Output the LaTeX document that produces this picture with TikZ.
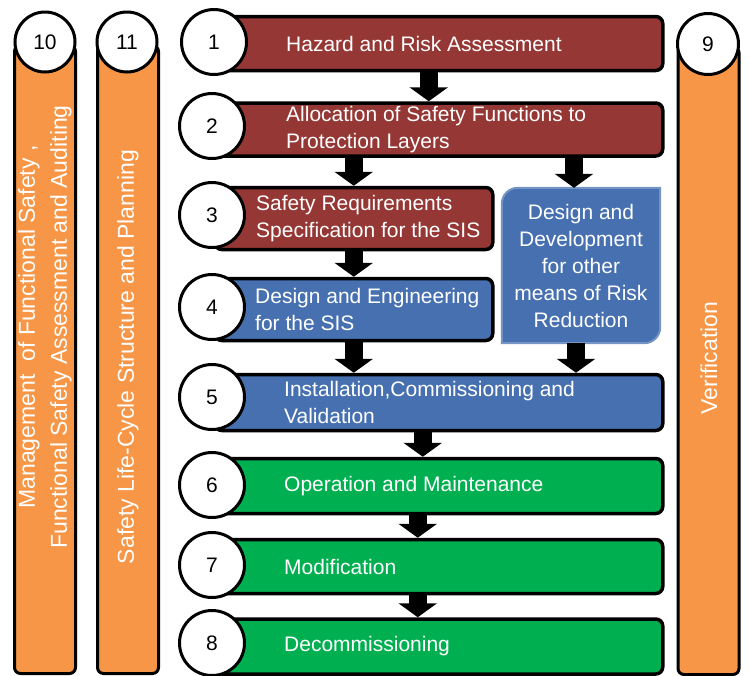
\documentclass[tikz,border=0pt]{standalone}
\usepackage{fontspec}
\setmainfont{Liberation Sans}
\usepackage{tikz}
\usetikzlibrary{arrows.meta}
\usetikzlibrary{backgrounds}

\definecolor{riskred}{RGB}{149,55,53}
\definecolor{sisblue}{RGB}{70,112,176}
\definecolor{opgreen}{RGB}{0,176,80}
\definecolor{mgmtorange}{RGB}{247,150,70}

\tikzstyle{stage}=[rectangle,
rounded corners=7pt,
draw=black,
line width=3.5pt,
anchor=west,
minimum width=448pt]
\tikzstyle{number}=[circle,
draw=black,
line width=3pt,
fill=white,
inner sep=0pt,
minimum size=65pt]
\tikzstyle{column}=[rectangle,
rounded corners=6pt,
draw=black,
line width=3pt,
fill=mgmtorange,
anchor=north,
minimum width=61pt,
minimum height=628pt]
\tikzstyle{stagetext}=[anchor=west,
align=left,
text=white,
inner sep=0pt]
\tikzstyle{coltext}=[rotate=90,
align=center,
text=white,
inner sep=0pt,
font=\fontsize{23}{32}\selectfont]
\tikzstyle{flow}=[line width=18pt,
-{Triangle[width=38pt,length=14pt]}]

\begin{document}
\begin{tikzpicture}[x=1pt,y=1pt,font=\fontsize{21}{27}\selectfont]
	\useasboundingbox (0,0) rectangle (749,-675);
	
	% Orange side bars with their numbers on top
	\node[column] (col_10) at (45,-44) {};
	\node[column] (col_11) at (128,-44) {};
	\node[column] (col_9)  at (708.5,-45) {};
	\node[number, minimum size=60pt] (num_10) at (45,-42)  {10};
	\node[number, minimum size=60pt] (num_11) at (127,-42) {11};
	\node[number, minimum size=61pt] (num_9)  at (708,-44) {9};
	
	\node[coltext] (txt_10) at (45,-327)
	{Management~~of Functional Safety ,\\Functional Safety Assessment and Auditing};
	\node[coltext] (txt_11) at (128,-357) {Safety Life-Cycle Structure and Planning};
	\node[coltext] (txt_9)  at (709,-358) {Verification};
	
	% The life-cycle phases, one box per phase
	\node[stage, fill=riskred,  minimum height=54pt] (box_1) at (213,-43.5) {};
	\node[stage, fill=riskred,  minimum height=53pt] (box_2) at (213,-129.5) {};
	\node[stage, fill=riskred,  minimum height=62pt, minimum width=278pt] (box_3) at (213,-218.5) {};
	\node[stage, fill=sisblue,  minimum height=62pt, minimum width=278pt] (box_4) at (213,-309.5) {};
	\node[stage, fill=sisblue,  minimum height=56pt] (box_5) at (213,-402.5) {};
	\node[stage, fill=opgreen,  minimum height=55pt] (box_6) at (213,-486) {};
	\node[stage, fill=opgreen,  minimum height=54pt] (box_7) at (213,-566.5) {};
	\node[stage, fill=opgreen,  minimum height=55pt] (box_8) at (213,-646.5) {};
	
	\node[stagetext] (lbl_1) at ([xshift=73pt]box_1.west) {Hazard and Risk Assessment};
	\node[stagetext] (lbl_2) at ([xshift=73pt]box_2.west)
	{Allocation of Safety Functions to\\Protection Layers};
	\node[stagetext] (lbl_3) at ([xshift=43pt]box_3.west)
	{Safety Requirements\\Specification for the SIS};
	\node[stagetext] (lbl_4) at ([xshift=42pt]box_4.west)
	{Design and Engineering\\for the SIS};
	\node[stagetext] (lbl_5) at ([xshift=71pt]box_5.west)
	{Installation,Commissioning and\\Validation};
	\node[stagetext] (lbl_6) at ([xshift=71pt]box_6.west) {Operation and Maintenance};
	\node[stagetext] (lbl_7) at ([xshift=71pt]box_7.west) {Modification};
	\node[stagetext] (lbl_8) at ([xshift=71pt]box_8.west) {Decommissioning};
	
	% Other risk reduction, beside the SIS branch
	\node[align=center, text=white, inner sep=0pt,
	minimum width=158pt, minimum height=155pt] (dsn) at (581,-265.5)
	{Design and\\Development\\for other\\means of Risk\\Reduction};
	
	% Phase numbers sit over the left end of each box
	\node[number] (num_1) at (214,-42)  {1};
	\node[number] (num_2) at (212,-126) {2};
	\node[number] (num_3) at (212,-215) {3};
	\node[number] (num_4) at (212,-307) {4};
	\node[number] (num_5) at (212,-397) {5};
	\node[number] (num_6) at (212,-485) {6};
	\node[number] (num_7) at (212,-565) {7};
	\node[number] (num_8) at (212,-643) {8};
	
	% Block arrows between the phases
	\path[flow]
	([xshift=-10pt]box_1.south) edge ([xshift=-10pt]box_2.north)
	(box_3.north |- box_2.south) edge (box_3.north)
	([xshift=-7pt]dsn.north |- box_2.south) edge ([xshift=-7pt]dsn.north)
	(box_3.south) edge (box_4.north)
	(box_4.south) edge (box_4.south |- box_5.north)
	([xshift=-5pt]dsn.south) edge ([xshift=-5pt]dsn.south |- box_5.north)
	([xshift=-16pt]box_5.south) edge ([xshift=-16pt]box_6.north)
	([xshift=-21pt]box_6.south) edge ([xshift=-21pt]box_7.north)
	([xshift=-21pt]box_7.south) edge ([xshift=-21pt]box_8.north)
	;
	
	\begin{pgfonlayer}{background}
	\filldraw[fill=sisblue, draw=sisblue!75!white, line width=2pt]
	([yshift=-16pt]dsn.north west) arc[start angle=180, end angle=90, radius=16pt]
	-- (dsn.north east) -- ([yshift=16pt]dsn.south east)
	arc[start angle=0, end angle=-90, radius=16pt] -- (dsn.south west) -- cycle;
	\end{pgfonlayer}
\end{tikzpicture}
\end{document}
